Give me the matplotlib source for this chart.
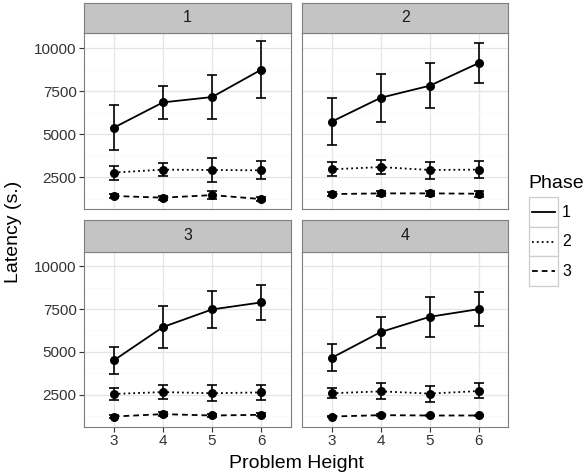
import numpy as np
import matplotlib
matplotlib.use('Agg')
import matplotlib.pyplot as plt
from matplotlib.lines import Line2D
from matplotlib.patches import Rectangle

plt.rcParams['font.family'] = ['Liberation Sans', 'DejaVu Sans']

##### DATA #####
heights = [3, 4, 5, 6]
phases = ['1', '2', '3']
panels = ['1', '2', '3', '4']

# mean latency per panel, rows = phase 1..3
mean = {
    '1': [[5370, 6840, 7150, 8740], [2760, 2930, 2910, 2890], [1400, 1300, 1450, 1220]],
    '2': [[5720, 7110, 7810, 9130], [2950, 3080, 2910, 2930], [1510, 1550, 1550, 1530]],
    '3': [[4500, 6450, 7480, 7890], [2540, 2650, 2580, 2630], [1220, 1360, 1280, 1320]],
    '4': [[4650, 6160, 7050, 7500], [2580, 2690, 2560, 2710], [1220, 1300, 1280, 1280]],
}
# lower / upper ends of the error bars
lower = {
    '1': [[4070, 5870, 5870, 7070], [2330, 2540, 2240, 2360], [1260, 1190, 1220, 1090]],
    '2': [[4340, 5720, 6510, 7970], [2540, 2660, 2380, 2420], [1380, 1400, 1400, 1360]],
    '3': [[3720, 5230, 6370, 6880], [2210, 2270, 2110, 2210], [1150, 1240, 1180, 1230]],
    '4': [[3880, 5230, 5890, 6510], [2300, 2250, 2090, 2280], [1180, 1240, 1230, 1230]],
}
upper = {
    '1': [[6690, 7770, 8410, 10390], [3160, 3340, 3600, 3410], [1540, 1420, 1690, 1360]],
    '2': [[7090, 8470, 9150, 10290], [3350, 3510, 3390, 3410], [1650, 1710, 1710, 1690]],
    '3': [[5270, 7700, 8570, 8880], [2910, 3040, 3050, 3080], [1300, 1470, 1380, 1410]],
    '4': [[5440, 7050, 8220, 8470], [2910, 3160, 3020, 3160], [1260, 1360, 1330, 1330]],
}

styles = ['-', (0, (1, 1.7)), (0, (3.2, 2.2))]

W, H = 585, 476
fig = plt.figure(figsize=(W / 100, H / 100), dpi=100)

def fx(px):
    return px / W

def fy(py):
    return 1 - py / H

# pixel boxes: (left, right) and (strip_top, panel_top, panel_bottom)
cols = [(84.3, 290.7), (302.3, 508.3)]
rows = [(2.7, 33.3, 209.3), (220.0, 251.7, 426.7)]

ylo = min(min(min(v) for v in lower[p]) for p in panels)
yhi = max(max(max(v) for v in upper[p]) for p in panels)
pad = 0.05 * (yhi - ylo)

for i, p in enumerate(panels):
    r, c = divmod(i, 2)
    l, rr = cols[c]
    st, pt, pb = rows[r]
    ax = fig.add_axes([fx(l), fy(pb), fx(rr - l), (pb - pt) / H])
    sax = fig.add_axes([fx(l), fy(pt), fx(rr - l), (pt - st) / H])
    sax.set_facecolor('#C4C4C4')
    sax.set_xticks([])
    sax.set_yticks([])
    for s in sax.spines.values():
        s.set_color('#7F7F7F')
        s.set_linewidth(0.8)
    sax.text(0.5, 0.5, p, ha='center', va='center', fontsize=11.5, color='#1A1A1A',
             transform=sax.transAxes)

    for k in range(3):
        m = np.array(mean[p][k])
        lo = m - np.array(lower[p][k])
        hi = np.array(upper[p][k]) - m
        ax.errorbar(heights, m, yerr=[lo, hi], fmt='none', ecolor='black',
                    elinewidth=1.2, capsize=3.4, capthick=1.2, zorder=3)
        ax.plot(heights, m, color='black', linestyle=styles[k], linewidth=1.3, zorder=3)
        ax.scatter(heights, m, s=30, color='black', zorder=4)

    ax.set_xlim(2.4, 6.6)
    ax.set_ylim(ylo - pad, yhi + pad)
    ax.set_xticks(heights)
    ax.set_yticks([2500, 5000, 7500, 10000])
    ax.set_yticks([1250, 3750, 6250, 8750], minor=True)
    ax.grid(True, which='major', color='#E5E5E5', linewidth=0.9)
    ax.grid(True, which='minor', axis='y', color='#FAFAFA', linewidth=0.6)
    ax.set_axisbelow(True)
    for s in ax.spines.values():
        s.set_color('#7F7F7F')
        s.set_linewidth(0.8)
    ax.tick_params(which='major', length=3.5, width=0.8, color='#333333',
                   labelsize=11, labelcolor='#333333', pad=2)
    ax.tick_params(which='minor', length=0)
    if c == 1:
        ax.tick_params(axis='y', which='major', length=0, labelleft=False)
    if r == 0:
        ax.tick_params(axis='x', which='major', length=0, labelbottom=False)

fig.text(fx(296.3), fy(463), 'Problem Height', ha='center', va='center', fontsize=14)
fig.text(fx(14), fy(232), 'Latency (s.)', ha='center', va='center', fontsize=14,
         rotation=90)

# legend
fig.text(fx(528), fy(183), 'Phase', ha='left', va='center', fontsize=14)
lax = fig.add_axes([0, 0, 1, 1], facecolor='none')
lax.set_xlim(0, W)
lax.set_ylim(H, 0)
lax.axis('off')
key_top = 197.3
key_h = 29.5
for k, name in enumerate(phases):
    y0 = key_top + k * key_h
    lax.add_patch(Rectangle((529, y0), 29, key_h, facecolor='white',
                            edgecolor='#CCCCCC', linewidth=0.9))
    lax.add_line(Line2D([532, 555], [y0 + key_h / 2] * 2, color='black',
                        linestyle=styles[k], linewidth=1.3))
    lax.text(562, y0 + key_h / 2, name, ha='left', va='center', fontsize=11.5)

fig.savefig('out.png', dpi=100)
